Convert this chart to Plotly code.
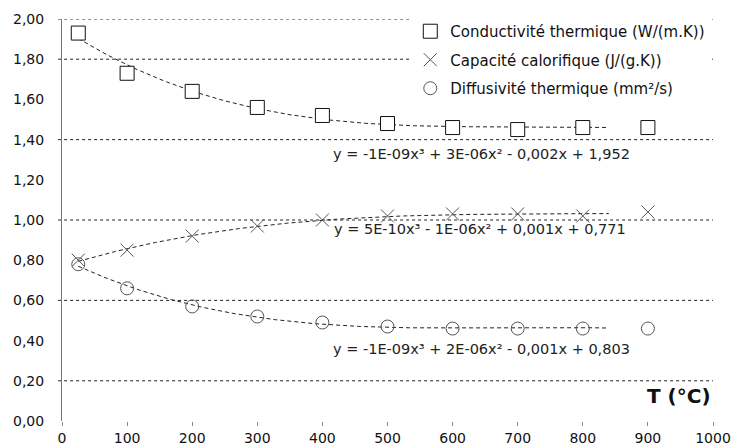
import numpy as np
import plotly.graph_objects as go

# ---- data ----
temps = [25, 100, 200, 300, 400, 500, 600, 700, 800, 900]
conductivite = [1.93, 1.73, 1.64, 1.56, 1.52, 1.48, 1.46, 1.45, 1.46, 1.46]
capacite = [0.80, 0.85, 0.92, 0.97, 1.00, 1.02, 1.03, 1.03, 1.02, 1.04]
diffusivite = [0.78, 0.66, 0.57, 0.52, 0.49, 0.47, 0.46, 0.46, 0.46, 0.46]

noms = ["Conductivité thermique (W/(m.K))",
        "Capacité calorifique (J/(g.K))",
        "Diffusivité thermique (mm²/s)"]
equations = ["y = -1E-09x³ + 3E-06x² - 0,002x + 1,952",
             "y = 5E-10x³ - 1E-06x² + 0,001x + 0,771",
             "y = -1E-09x³ + 2E-06x² - 0,001x + 0,803"]
x_ticks = [0, 100, 200, 300, 400, 500, 600, 700, 800, 900, 1000]
y_ticks = [0.0, 0.2, 0.4, 0.6, 0.8, 1.0, 1.2, 1.4, 1.6, 1.8, 2.0]
y_grid = [0.2, 0.6, 1.0, 1.4, 1.8, 2.0]

FONT = "DejaVu Sans"
series = [conductivite, capacite, diffusivite]
symbols = ["square", "x-thin-open", "circle-open"]
sizes = [14, 13, 13]
eq_pos = [(645, 1.33), (642, 0.955), (645, 0.36)]

fig = go.Figure()

# trendlines (cubic fits)
xs = np.linspace(25, 840, 200)
for vals in series:
    coef = np.polyfit(temps, vals, 3)
    fig.add_trace(go.Scatter(x=xs, y=np.polyval(coef, xs), mode="lines",
                             line=dict(color="#222", width=1, dash="4px,3px"),
                             showlegend=False, hoverinfo="skip"))

for i, vals in enumerate(series):
    if symbols[i] == "square":
        marker = dict(symbol="square", size=sizes[i], color="white",
                      line=dict(color="#111", width=1))
    else:
        marker = dict(symbol=symbols[i], size=sizes[i], color="#555",
                      line=dict(color="#555", width=1))
    fig.add_trace(go.Scatter(x=temps, y=vals, mode="markers", name=noms[i],
                             marker=marker, legendgroup=str(i)))

shapes = []
for g in y_grid:
    shapes.append(dict(type="line", xref="paper", yref="y", x0=-0.006, x1=1.0,
                       y0=g, y1=g, line=dict(color="#222", width=1, dash="dot"),
                       layer="below"))

annotations = []
for (ex, ey), txt in zip(eq_pos, equations):
    annotations.append(dict(x=ex, y=ey, xref="x", yref="y", text=txt,
                            showarrow=False, xanchor="center", yanchor="middle",
                            font=dict(family=FONT, size=14.5, color="#222")))
annotations.append(dict(x=1.0, y=0.062, xref="paper", yref="paper",
                        text="<b>T (°C)</b>", showarrow=False,
                        xanchor="right", yanchor="middle",
                        font=dict(family=FONT, size=20, color="#111")))

fig.update_layout(
    width=742, height=447,
    margin=dict(l=62, r=29, t=19, b=26),
    paper_bgcolor="white", plot_bgcolor="white",
    font=dict(family=FONT, size=15, color="#111"),
    showlegend=True,
    legend=dict(x=0.535, y=1.01, xanchor="left", yanchor="top",
                bgcolor="white", font=dict(family=FONT, size=15, color="#111"),
                tracegroupgap=6, itemwidth=30),
    shapes=shapes,
    annotations=annotations,
    xaxis=dict(range=[0, 1000], tickvals=x_ticks, ticktext=[str(v) for v in x_ticks],
               showgrid=False, zeroline=False, showline=False, automargin=False,
               ticks="outside", ticklen=4, tickcolor="#888",
               tickfont=dict(family=FONT, size=14, color="#111")),
    yaxis=dict(range=[0, 2], tickvals=y_ticks,
               ticktext=[f"{v:.2f}".replace(".", ",") for v in y_ticks],
               showgrid=False, zeroline=False, showline=True, linecolor="#777",
               linewidth=1, ticks="", ticklabelstandoff=14, automargin=False,
               tickfont=dict(family=FONT, size=14, color="#111")),
)

fig.write_html("out.html")
